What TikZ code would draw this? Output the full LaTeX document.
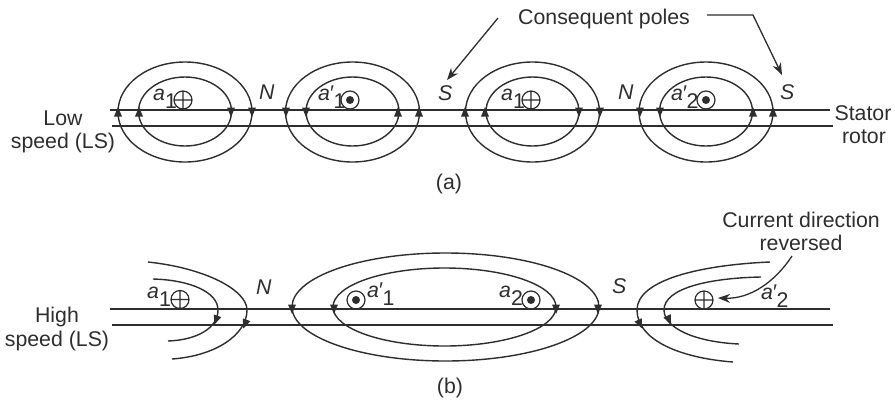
\documentclass[tikz,border=0pt]{standalone}
\usepackage{fontspec}
\setmainfont{Liberation Sans}
\usetikzlibrary{arrows.meta}
\definecolor{ink}{HTML}{2E2E2E}
\newcommand{\tipat}[3]{\fill[ink,shift={(#1,#2)},rotate=#3] (5,0) -- (-4.5,4) -- (-4.5,-4) -- cycle;}
\newcommand{\suba}[1]{\textit{a}\raisebox{-8pt}{#1}}
\newcommand{\subp}[1]{\textit{a}\kern-1pt\textit{′}\raisebox{-8pt}{#1}}
\tikzset{
 lab/.style={text=ink,inner sep=0pt,anchor=base west,font=\fontsize{21.3}{25}\selectfont},
 captext/.style={text=ink,inner sep=0pt,anchor=base,font=\fontsize{21.3}{25}\selectfont},
 fieldline/.style={ink,line width=1.4pt},
 callout/.style={ink,line width=1.3pt,-{Stealth[length=12pt,width=9pt]}},
 cross/.pic={\draw[ink,line width=1.2pt] (0,0) circle (9) (-9,0) -- (9,0) (0,-9) -- (0,9);},
 dotsym/.pic={\draw[ink,line width=1.2pt] (0,0) circle (9); \fill[ink] (0,0) circle (4);},
 poles/.pic={\draw[fieldline] (0,0) ellipse (67 and 50) (0,-.5) ellipse (46.5 and 34.5);}
}
\begin{document}
\begin{tikzpicture}[x=1pt,y=-1pt]
\useasboundingbox[fill=white] (0,0) rectangle (895,405);
% (a)
\draw[fieldline] (110,110) -- (830,110);
\draw[fieldline] (112,126) -- (833,126);
\foreach \c in {185,352.5,532.5,706} \pic at (\c,112) {poles};
\foreach \x in {118,139,398,419,465,485,753,773} {\tipat{\x}{112}{90}}
\foreach \x in {231,252,286,306,579,600,640,660} {\tipat{\x}{112}{-90}}
\pic at (183,100) {cross};
\pic at (350,100) {dotsym};
\pic at (531,100) {cross};
\pic at (706,100) {dotsym};
\node[lab] (a1) at (153,100) {\suba{1}};
\node[lab] (a1p) at (318,100) {\subp{1}};
\node[lab] (a3) at (501,100) {\suba{1}};
\node[lab] (a2p) at (671,100) {\subp{2}};
\node[lab] (n1) at (259,99) {\textit{N}};
\node[lab] (s1) at (438,100) {\textit{S}};
\node[lab] (n2) at (618,99) {\textit{N}};
\node[lab] (s2) at (780,99) {\textit{S}};
\node[captext] (low) at (63,125) {Low};
\node[captext] (lowb) at (63,148) {speed (LS)};
\node[captext] (stator) at (863,120) {Stator};
\node[captext] (rotor) at (864,143) {rotor};
\node[captext] (capa) at (449,189) {(a)};
\node[lab] (cons) at (518,24) {Consequent poles};
\coordinate (l1) at (498,18);
\coordinate (l1e) at (447,80);
\coordinate (l2) at (707,15);
\coordinate (l2m) at (753,15);
\coordinate (l2e) at (782,75);
\draw[callout] (l1) -- (l1e);
\draw[callout] (l2) -- (l2m) -- (l2e);
% (b)
\draw[fieldline] (110,309) -- (830,309);
\draw[fieldline] (112,325) -- (833,325);
\draw[fieldline] (445.5,307) ellipse (153.5 and 54);
\draw[fieldline] (444.5,307) ellipse (111.5 and 39);
\draw[fieldline] (148,262) .. controls (205,268) and (247,290) .. (247,310) .. controls (247,335) and (215,356) .. (172,359);
\draw[fieldline] (153,279) .. controls (190,280) and (218,292) .. (218,310) .. controls (218,328) and (197,340) .. (168,341);
\draw[fieldline] (770,262) .. controls (700,265) and (637,280) .. (637,310) .. controls (637,340) and (680,358) .. (733,362);
\draw[fieldline] (761,277) .. controls (710,278) and (664,288) .. (664,310) .. controls (664,328) and (695,342) .. (739,344);
\tipat{245}{324}{-110}
\tipat{216}{320}{-110}
\foreach \x in {292,334,556,598} {\tipat{\x}{309}{-90}}
\tipat{640}{324}{-65}
\tipat{669}{320}{-65}
\pic at (180,299.5) {cross};
\pic at (356,300) {dotsym};
\pic at (531,300) {dotsym};
\pic at (704,300) {cross};
\node[lab] (b1) at (147,298) {\suba{1}};
\node[lab] (b1p) at (367,297) {\subp{1}};
\node[lab] (b2) at (499,297) {\suba{2}};
\node[lab] (b2p) at (761,299) {\subp{2}};
\node[lab] (n3) at (256,294) {\textit{N}};
\node[lab] (s3) at (612,293) {\textit{S}};
\node[captext] (high) at (57,322) {High};
\node[captext] (highb) at (57,346) {speed (LS)};
\node[captext] (capb) at (450,393) {(b)};
\node[captext] (cur) at (801,227) {Current direction};
\node[captext] (rev) at (801,250) {reversed};
\coordinate (c1) at (792,256);
\coordinate (c1e) at (718,298);
\draw[callout] (c1) .. controls (775,282) and (750,299) .. (c1e);
\end{tikzpicture}
\end{document}
